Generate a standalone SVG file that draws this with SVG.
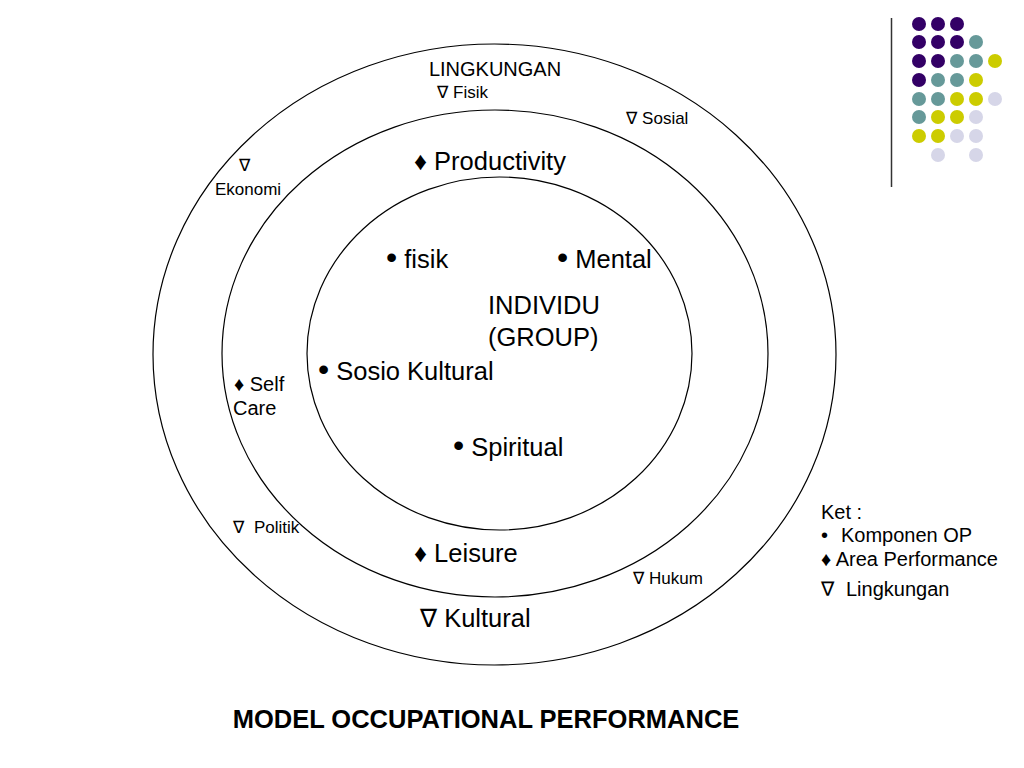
<svg xmlns="http://www.w3.org/2000/svg" width="1024" height="768" viewBox="0 0 1024 768">
<style>
text{font-family:"Liberation Sans",Arial,"DejaVu Sans",sans-serif;fill:#000}
.ring{fill:none;stroke:#000;stroke-width:1.2}
.s14{font-size:17px}
.s17{font-size:20px}
.s23{font-size:25.5px}
.b{font-size:1.25em}
.p{fill:#330066}.t{fill:#669999}.y{fill:#cccc00}.l{fill:#d6d6e8}
</style>
<rect width="1024" height="768" fill="#fff"/>
<g id="decor">
<line x1="891.5" y1="18" x2="891.5" y2="187" stroke="#333" stroke-width="1.5"/>
<circle class="p" cx="919" cy="24" r="7"/><circle class="p" cx="938" cy="24" r="7"/><circle class="p" cx="957" cy="24" r="7"/>
<circle class="p" cx="919" cy="42" r="7"/><circle class="p" cx="938" cy="42" r="7"/><circle class="p" cx="957" cy="42" r="7"/><circle class="t" cx="976" cy="42" r="7"/>
<circle class="p" cx="919" cy="61" r="7"/><circle class="p" cx="938" cy="61" r="7"/><circle class="t" cx="957" cy="61" r="7"/><circle class="t" cx="976" cy="61" r="7"/><circle class="y" cx="995" cy="61" r="7"/>
<circle class="p" cx="919" cy="80" r="7"/><circle class="t" cx="938" cy="80" r="7"/><circle class="t" cx="957" cy="80" r="7"/><circle class="y" cx="976" cy="80" r="7"/>
<circle class="t" cx="919" cy="99" r="7"/><circle class="t" cx="938" cy="99" r="7"/><circle class="y" cx="957" cy="99" r="7"/><circle class="y" cx="976" cy="99" r="7"/><circle class="l" cx="995" cy="99" r="7"/>
<circle class="t" cx="919" cy="117" r="7"/><circle class="y" cx="938" cy="117" r="7"/><circle class="y" cx="957" cy="117" r="7"/><circle class="l" cx="976" cy="117" r="7"/>
<circle class="y" cx="919" cy="136" r="7"/><circle class="y" cx="938" cy="136" r="7"/><circle class="l" cx="957" cy="136" r="7"/><circle class="l" cx="976" cy="136" r="7"/>
<circle class="l" cx="938" cy="155" r="7"/><circle class="l" cx="976" cy="155" r="7"/>
</g>
<g id="lingkungan">
<ellipse class="ring" cx="494.5" cy="354.5" rx="341.5" ry="310.5"/>
<text class="s17" x="495" y="76" text-anchor="middle">LINGKUNGAN</text>
<text class="s14" x="437" y="98">∇ Fisik</text>
<text class="s14" x="626" y="124">∇ Sosial</text>
<text class="s14" x="239" y="171">∇</text>
<text class="s14" x="215" y="195">Ekonomi</text>
<text class="s14" x="233" y="533">∇<tspan x="254">Politik</tspan></text>
<text class="s14" x="633" y="584">∇ Hukum</text>
<text class="s23" x="420" y="627">∇ Kultural</text>
</g>
<g id="area-performance">
<ellipse class="ring" cx="495" cy="353.5" rx="273" ry="243.5"/>
<text class="s23" x="414" y="170">♦ Productivity</text>
<text class="s17" x="234" y="391">♦ Self</text>
<text class="s17" x="233" y="415">Care</text>
<text class="s23" x="414" y="562">♦ Leisure</text>
</g>
<g id="individu">
<ellipse class="ring" cx="499.5" cy="353.5" rx="192.5" ry="176.5"/>
<text class="s23" x="386" y="268"><tspan class="b">•</tspan> fisik</text>
<text class="s23" x="557" y="268"><tspan class="b">•</tspan> Mental</text>
<text class="s23" x="488" y="314">INDIVIDU</text>
<text class="s23" x="488" y="346">(GROUP)</text>
<text class="s23" x="318" y="380"><tspan class="b">•</tspan> Sosio Kultural</text>
<text class="s23" x="453" y="456"><tspan class="b">•</tspan> Spiritual</text>
</g>
<g id="legend">
<text class="s17" x="821" y="519">Ket :</text>
<text class="s17" x="821" y="542">•<tspan x="841">Komponen OP</tspan></text>
<text class="s17" x="821" y="566">♦ Area Performance</text>
<text class="s17" x="821" y="596">∇<tspan x="846">Lingkungan</tspan></text>
</g>
<g id="connectors"></g>
<text x="486" y="728" text-anchor="middle" font-size="25.5" font-weight="bold">MODEL OCCUPATIONAL PERFORMANCE</text>
</svg>
